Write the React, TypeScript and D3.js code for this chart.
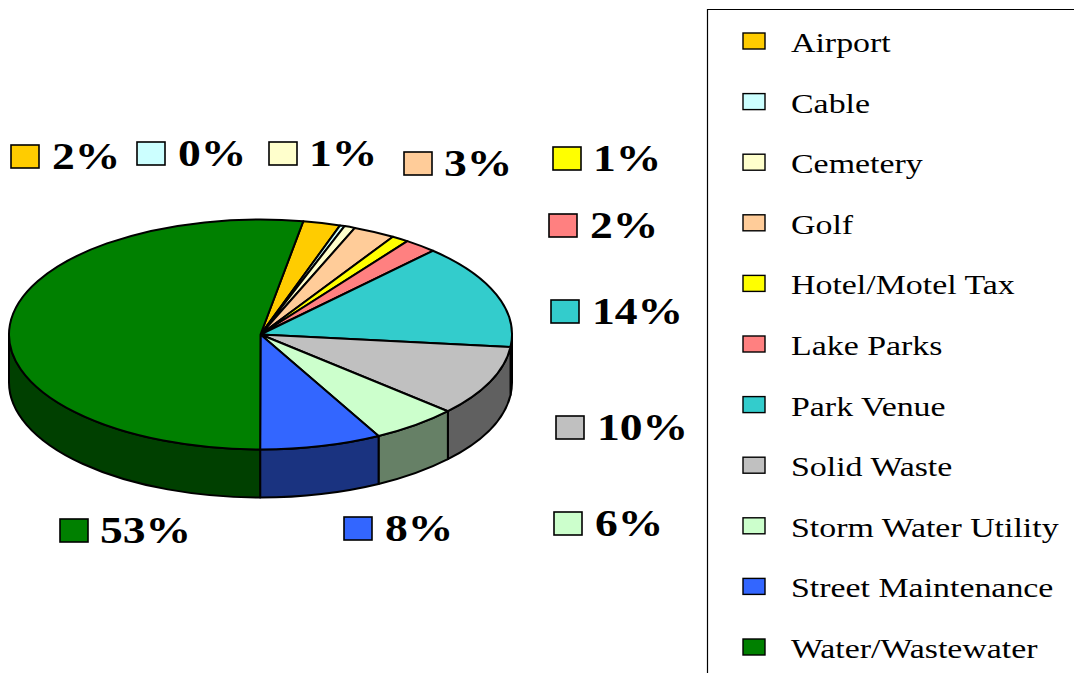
import React from "react";
import * as d3 from "d3";

const categories = ["Airport","Cable","Cemetery","Golf","Hotel/Motel Tax","Lake Parks","Park Venue","Solid Waste","Storm Water Utility","Street Maintenance","Water/Wastewater"];
const shares = [2.4,0.3,0.7,2.7,1.1,2.1,14.7,9.9,5.6,7.8,52.7];
const shareLabels = ["2%","0%","1%","3%","1%","2%","14%","10%","6%","8%","53%"];
const colors = ["#ffcc00","#ccffff","#ffffcc","#ffcc99","#ffff00","#ff8080","#33cccc","#c0c0c0","#ccffcc","#3366ff","#008000"];

// layout
const W = 1074, H = 673;
const cx = 260.5, cy = 334.5, rx = 251.5, ry = 115, depth = 48;
const START = (9.8 * Math.PI) / 180;
const labelPos: [number, number][] = [[11,145],[137,142],[269,142],[404,152],[553,147],[549,214],[551,300],[556,416],[554,512],[344,517],[60,519]];
const textDx = [41,41,40,40,40,41,41,41,41,41,40];

const pt = (t: number, dy = 0): [number, number] => [cx + rx * Math.sin(t), cy - ry * Math.cos(t) + dy];

export default function App() {
  const arcs = d3.pie<number>().sort(null).startAngle(START).endAngle(START + 2 * Math.PI)(shares);
  const legendY = d3.scaleLinear().domain([0, categories.length - 1]).range([41, 647]);
  const FRONT0 = Math.PI / 2, FRONT1 = (3 * Math.PI) / 2;

  const topPath = (a0: number, a1: number) => {
    const [x0, y0] = pt(a0), [x1, y1] = pt(a1);
    return `M${cx},${cy}L${x0},${y0}A${rx},${ry} 0 ${a1 - a0 > Math.PI ? 1 : 0} 1 ${x1},${y1}Z`;
  };
  const sidePath = (a0: number, a1: number) => {
    const s = Math.max(a0, FRONT0), e = Math.min(a1, FRONT1);
    if (e <= s) return null;
    const [x0, y0] = pt(s), [x1, y1] = pt(e), [x2, y2] = pt(e, depth), [x3, y3] = pt(s, depth);
    return `M${x0},${y0}A${rx},${ry} 0 0 1 ${x1},${y1}L${x2},${y2}A${rx},${ry} 0 0 0 ${x3},${y3}Z`;
  };
  const dark = (c: string) => {
    const r = d3.rgb(c);
    return d3.rgb(r.r / 2, r.g / 2, r.b / 2).formatHex();
  };

  return (
    <svg width={W} height={H} style={{ position: "absolute", left: 0, top: 0, background: "#fff" }} fontFamily="'Liberation Serif', serif">
      {arcs.map((a, i) => {
        const d = sidePath(a.startAngle, a.endAngle);
        return d ? <path key={i} d={d} fill={dark(colors[i])} stroke="#000" strokeWidth={2} strokeLinejoin="round" /> : null;
      })}
      {arcs.map((a, i) => (
        <path key={i} d={topPath(a.startAngle, a.endAngle)} fill={colors[i]} stroke="#000" strokeWidth={2} strokeLinejoin="round" />
      ))}
      {shareLabels.map((s, i) => {
        const [x, y] = labelPos[i];
        return (
          <g key={i}>
            <rect x={x} y={y} width={28} height={23} fill={colors[i]} stroke="#000" strokeWidth={1.6} />
            <text transform={`translate(${x + textDx[i]},${y + 24}) scale(1.2,1)`} fontSize={38} fontWeight={700} fill="#000">{s}</text>
          </g>
        );
      })}
      <path d={`M${W},9.5H707.5V${H}`} fill="none" stroke="#000" strokeWidth={1.2} />
      {categories.map((c, i) => (
        <g key={i}>
          <rect x={743} y={legendY(i) - 8} width={22} height={16} fill={colors[i]} stroke="#000" strokeWidth={1.4} />
          <text transform={`translate(791,${legendY(i) + 11}) scale(1.255,1)`} fontSize={27} fill="#000">{c}</text>
        </g>
      ))}
    </svg>
  );
}
